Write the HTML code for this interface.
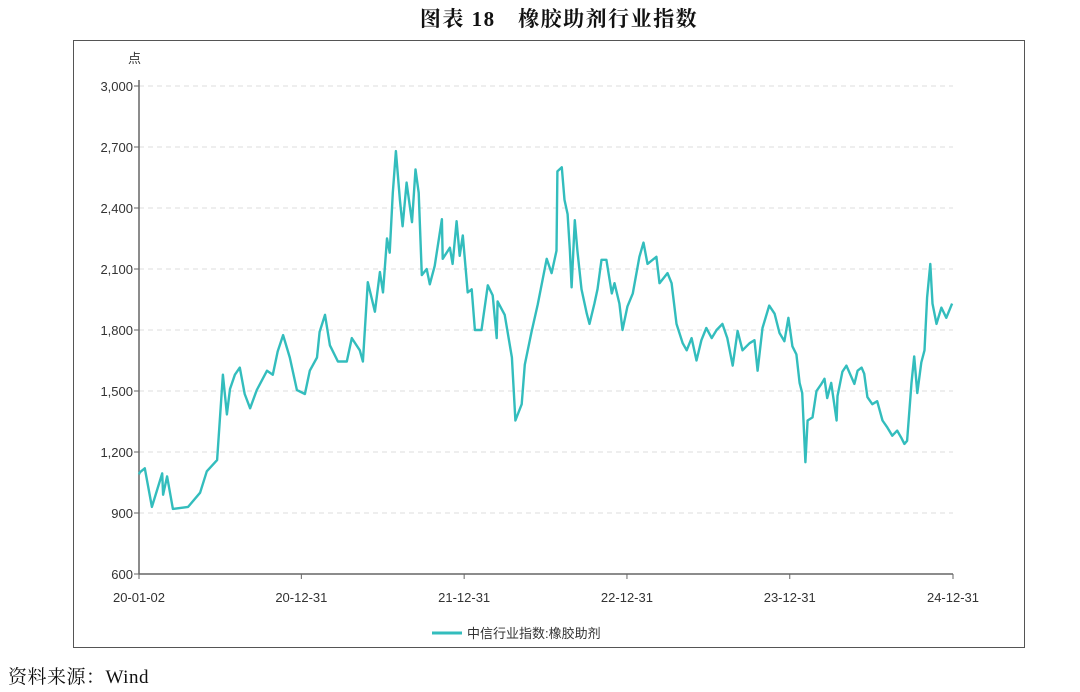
<!DOCTYPE html>
<html><head><meta charset="utf-8"><style>
body{margin:0;background:#fff;width:1080px;height:692px;overflow:hidden;position:relative;font-family:"Liberation Sans","Noto Sans CJK SC",sans-serif}
.t{position:absolute}
</style></head><body>
<div class="t" style="left:0;width:1118px;top:3px;text-align:center;font-family:'Liberation Serif','Noto Serif CJK SC',serif;font-size:21px;font-weight:bold;letter-spacing:1.5px;color:#111">图表 18　橡胶助剂行业指数</div>
<div class="t" style="left:8px;top:662px;font-family:'Liberation Serif','Noto Serif CJK SC',serif;font-size:19px;letter-spacing:0.5px;color:#111">资料来源：Wind</div>
<svg id="c" width="1080" height="692" style="position:absolute;left:0;top:0" xmlns="http://www.w3.org/2000/svg">
<rect x="73.5" y="40.5" width="951" height="607" fill="none" stroke="#555" stroke-width="1"/>
<text x="128" y="63" font-size="13" fill="#333" font-family="Liberation Sans, Noto Sans CJK SC, sans-serif">点</text>
<g id="grid"></g><g id="axes"></g><g id="series"></g>
<g>
<line x1="432" y1="633" x2="462" y2="633" stroke="#33bdbd" stroke-width="3"/>
<text x="467" y="638" font-size="13" fill="#333" font-family="Liberation Sans, Noto Sans CJK SC, sans-serif">中信行业指数:橡胶助剂</text>
</g>
</svg>
<script>
const days=[0,2,13,29,52,54,63,76,110,137,152,175,188,197,204,215,226,237,249,264,287,300,311,323,338,354,372,383,399,405,417,428,446,466,477,495,502,513,529,540,547,556,562,569,576,585,591,600,612,620,627,634,645,652,663,679,681,697,703,712,719,726,737,746,753,768,782,793,802,804,820,836,844,858,865,880,894,914,925,936,938,948,954,961,966,970,977,983,992,1004,1010,1021,1028,1037,1048,1060,1066,1077,1084,1095,1107,1122,1131,1140,1160,1167,1185,1194,1205,1219,1228,1239,1250,1261,1272,1284,1295,1308,1319,1331,1342,1353,1369,1380,1387,1398,1413,1425,1436,1447,1456,1465,1474,1481,1487,1494,1499,1510,1519,1530,1537,1543,1552,1564,1566,1577,1586,1597,1604,1611,1620,1626,1633,1644,1655,1667,1678,1689,1700,1709,1716,1722,1732,1738,1745,1754,1761,1767,1774,1779,1788,1799,1810,1823];
const values=[1090,1100,1120,930,1095,990,1080,920,930,1000,1105,1160,1580,1385,1510,1580,1615,1485,1415,1505,1600,1580,1695,1775,1665,1505,1485,1600,1665,1790,1875,1725,1645,1645,1760,1700,1645,2035,1890,2085,1985,2250,2180,2475,2680,2440,2310,2525,2330,2590,2475,2070,2100,2025,2115,2345,2150,2205,2125,2335,2165,2265,1985,2000,1800,1800,2020,1970,1760,1940,1875,1665,1355,1435,1630,1790,1925,2150,2080,2190,2580,2600,2440,2370,2190,2010,2340,2190,2000,1880,1830,1930,2000,2145,2145,1980,2030,1930,1800,1915,1980,2160,2230,2125,2160,2030,2080,2030,1830,1735,1700,1760,1650,1750,1810,1760,1800,1830,1760,1625,1795,1700,1735,1750,1600,1810,1920,1880,1785,1745,1860,1720,1680,1540,1490,1150,1355,1370,1500,1535,1560,1465,1540,1355,1475,1595,1625,1570,1535,1600,1615,1585,1470,1435,1450,1355,1320,1280,1305,1270,1240,1255,1540,1670,1490,1640,1700,1960,2125,1930,1830,1910,1860,1930];
const yTicks=[600,900,1200,1500,1800,2100,2400,2700,3000];
const yTickLabels=["600","900","1,200","1,500","1,800","2,100","2,400","2,700","3,000"];
const xTickDays=[0,364,729,1094,1459,1825];
const xTickLabels=["20-01-02","20-12-31","21-12-31","22-12-31","23-12-31","24-12-31"];
const X0=139,X1=953,Y0=574,Y1=86;
const sx=d=>X0+(d-0)/1825*(X1-X0);
const sy=v=>Y0-(v-600)/2400*(Y0-Y1);
const NS="http://www.w3.org/2000/svg";
function mk(tag,attrs,parent){const e=document.createElementNS(NS,tag);for(const k in attrs)e.setAttribute(k,attrs[k]);parent.appendChild(e);return e;}
const grid=document.getElementById('grid'),axes=document.getElementById('axes'),ser=document.getElementById('series');
yTicks.forEach((v,i)=>{
  const y=sy(v);
  if(i>0){const g=mk('line',{x1:X0,x2:X1,y1:y,y2:y,stroke:'#ddd','stroke-dasharray':'5,4'},grid);
  
  }
  const tk=mk('line',{x1:X0-5,x2:X0,y1:y,y2:y,stroke:'#666'},axes);
  
  
  const t=mk('text',{x:X0-6,y:y+5,'text-anchor':'end','font-size':13,fill:'#333','font-family':'Liberation Sans, sans-serif'},axes);
  t.textContent=yTickLabels[i];
  
  
});
const ya=mk('line',{x1:X0,x2:X0,y1:80,y2:Y0,stroke:'#666','stroke-width':1.5},axes);


const xa=mk('line',{x1:X0,x2:X1,y1:Y0,y2:Y0,stroke:'#666','stroke-width':1.5},axes);


xTickDays.forEach((d,i)=>{
  const x=sx(d);
  const tk=mk('line',{x1:x,x2:x,y1:Y0,y2:Y0+5,stroke:'#666'},axes);
  
  
  const t=mk('text',{x:x,y:602,'text-anchor':'middle','font-size':13,fill:'#333','font-family':'Liberation Sans, sans-serif'},axes);
  t.textContent=xTickLabels[i];
  
  
});
const pts=days.map((d,i)=>sx(d).toFixed(1)+','+sy(values[i]).toFixed(1)).join(' ');
const pl=mk('polyline',{points:pts,fill:'none',stroke:'#33bdbd','stroke-width':2.4,'stroke-linejoin':'round'},ser);


</script>
</body></html>
